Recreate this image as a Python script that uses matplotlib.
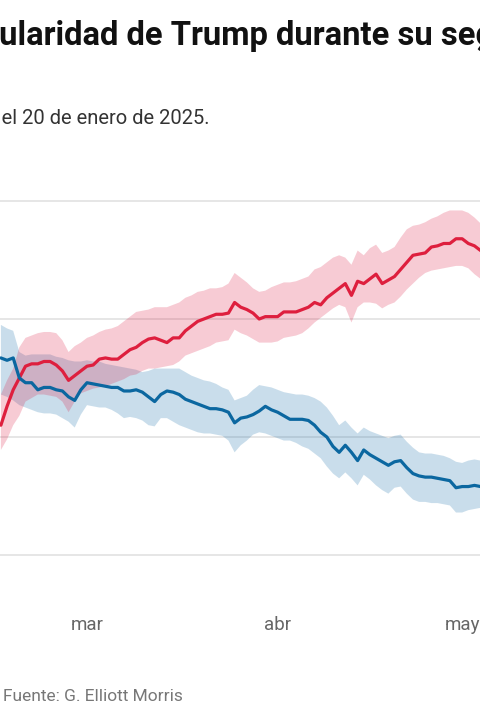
import matplotlib
matplotlib.use("Agg")
import matplotlib.pyplot as plt
import matplotlib.dates as mdates
import numpy as np
import datetime as dt

plt.rcParams['font.family'] = ['Roboto', 'DejaVu Sans']

# ---------------- data (daily, 15 feb 2025 -> 4 may 2025) ----------------
start_date = "2025-02-15"
n_days = 80

desaprobacion = [45.5, 46.3, 47.0, 47.5, 48.0, 48.1, 48.1, 48.2, 48.2, 48.05,
                 47.8, 47.4, 47.6, 47.8, 48.0, 48.05, 48.3, 48.35, 48.3, 48.3,
                 48.5, 48.7, 48.8, 49.0, 49.15, 49.2, 49.1, 49.0, 49.2, 49.2,
                 49.5, 49.7, 49.9, 50.0, 50.1, 50.2, 50.2, 50.25, 50.7, 50.5,
                 50.4, 50.25, 50.0, 50.1, 50.1, 50.1, 50.3, 50.3, 50.3, 50.4,
                 50.5, 50.7, 50.6, 50.9, 51.1, 51.3, 51.5, 51.0, 51.6, 51.5,
                 51.7, 51.9, 51.5, 51.65, 51.8, 52.1, 52.4, 52.7, 52.75, 52.8,
                 53.05, 53.1, 53.2, 53.2, 53.4, 53.4, 53.2, 53.1, 52.9, 52.9]
desaprobacion_alto = [46.8, 47.4, 47.9, 48.8, 49.2, 49.3, 49.4, 49.45, 49.45, 49.4,
                      49.1, 48.6, 48.85, 49.0, 49.2, 49.3, 49.45, 49.55, 49.6, 49.7,
                      49.9, 50.1, 50.3, 50.35, 50.4, 50.5, 50.5, 50.5, 50.6, 50.7,
                      50.9, 51.0, 51.15, 51.2, 51.3, 51.3, 51.35, 51.5, 51.95, 51.75,
                      51.55, 51.3, 51.15, 51.2, 51.35, 51.45, 51.55, 51.55, 51.6, 51.7,
                      51.8, 52.1, 52.2, 52.4, 52.6, 52.7, 52.6, 52.3, 52.9, 52.7,
                      53.0, 53.15, 52.8, 52.9, 53.05, 53.45, 53.8, 53.95, 54.0, 54.1,
                      54.25, 54.35, 54.5, 54.6, 54.6, 54.6, 54.5, 54.3, 54.05, 53.9]
desaprobacion_bajo = [44.45, 44.9, 45.5, 45.9, 46.5, 46.65, 46.8, 46.8, 46.75, 46.7,
                      46.5, 46.05, 46.5, 46.85, 46.95, 47.05, 47.1, 47.15, 47.25, 47.35,
                      47.45, 47.6, 47.65, 47.8, 47.9, 47.9, 47.95, 48.0, 48.05, 48.2,
                      48.45, 48.55, 48.65, 48.75, 48.85, 49.0, 49.05, 49.1, 49.55, 49.4,
                      49.3, 49.15, 49.0, 49.0, 49.0, 49.05, 49.2, 49.25, 49.3, 49.4,
                      49.6, 49.85, 50.05, 50.25, 50.45, 50.6, 50.5, 49.85, 50.5, 50.7,
                      50.7, 50.65, 50.45, 50.6, 50.7, 50.95, 51.25, 51.5, 51.75, 51.95,
                      52.05, 52.1, 52.15, 52.2, 52.25, 52.25, 52.15, 51.9, 51.7, 51.55]

aprobacion = [48.35, 48.25, 48.35, 47.5, 47.3, 47.3, 47.0, 47.1, 47.1, 47.0,
              46.95, 46.7, 46.55, 47.0, 47.3, 47.25, 47.2, 47.15, 47.1, 47.1,
              46.95, 46.95, 47.0, 46.9, 46.7, 46.5, 46.8, 46.95, 46.9, 46.8,
              46.6, 46.5, 46.4, 46.3, 46.2, 46.2, 46.15, 46.05, 45.6, 45.8,
              45.85, 45.95, 46.1, 46.3, 46.15, 46.05, 45.9, 45.75, 45.75, 45.75,
              45.7, 45.5, 45.2, 45.0, 44.6, 44.35, 44.65, 44.35, 44.0, 44.45,
              44.25, 44.1, 43.95, 43.8, 43.95, 44.0, 43.7, 43.45, 43.35, 43.3,
              43.3, 43.25, 43.2, 43.15, 42.85, 42.9, 42.9, 42.95, 42.9, 42.9]
aprobacion_alto = [49.75, 49.6, 49.5, 48.6, 48.45, 48.5, 48.5, 48.5, 48.5, 48.4,
                   48.35, 48.25, 48.2, 48.2, 48.25, 48.2, 48.2, 48.1, 48.05, 48.0,
                   47.95, 47.9, 47.85, 47.75, 47.8, 47.9, 47.9, 47.9, 47.9, 47.9,
                   47.75, 47.6, 47.5, 47.4, 47.35, 47.25, 47.1, 47.0, 46.55, 46.65,
                   46.75, 47.0, 47.2, 47.15, 47.1, 47.0, 46.9, 46.85, 46.8, 46.8,
                   46.75, 46.65, 46.5, 46.25, 45.9, 45.5, 45.7, 45.4, 45.15, 45.4,
                   45.25, 45.15, 45.05, 44.95, 45.05, 45.1, 44.8, 44.55, 44.35, 44.3,
                   44.3, 44.25, 44.2, 44.1, 43.95, 43.9, 44.0, 44.05, 44.0, 43.9]
aprobacion_bajo = [46.8, 46.7, 46.55, 46.35, 46.25, 46.15, 46.05, 46.0, 46.0, 45.95,
                   45.8, 45.65, 45.4, 45.95, 46.35, 46.3, 46.25, 46.25, 46.15, 46.0,
                   45.8, 45.85, 45.8, 45.7, 45.5, 45.45, 45.8, 45.8, 45.65, 45.5,
                   45.4, 45.3, 45.2, 45.15, 45.15, 45.1, 45.05, 44.85, 44.35, 44.65,
                   44.85, 45.1, 45.2, 45.15, 45.05, 44.95, 44.85, 44.85, 44.75, 44.6,
                   44.5, 44.3, 44.1, 43.75, 43.45, 43.25, 43.5, 43.25, 42.95, 43.4,
                   43.2, 42.95, 42.75, 42.6, 42.85, 42.9, 42.6, 42.35, 42.25, 42.25,
                   42.2, 42.2, 42.15, 42.1, 41.8, 41.8, 41.9, 41.95, 42.0, 42.0]

tick_dates = ["2025-03-01", "2025-04-01", "2025-05-01"]
tick_labels = ["mar", "abr", "may"]
y_grid = [40, 45, 50, 55]

titulo = "Popularidad de Trump durante su segundo mandato"
titulo_oculto = "Pop"
subtitulo = "Aprobación y desaprobación de Donald Trump desde el 20 de enero de 2025."
fuente = "Fuente: G. Elliott Morris"

# ---------------- figure ----------------
W, H = 480, 720
fig = plt.figure(figsize=(W / 100, H / 100), dpi=100)
fig.patch.set_facecolor("white")

ax_top_px, ax_bot_px = 201, 555
ax = fig.add_axes([0, 1 - ax_bot_px / H, 1, (ax_bot_px - ax_top_px) / H])
ax.set_facecolor("none")

dates = np.array([np.datetime64(start_date) + np.timedelta64(i, 'D') for i in range(n_days)])
dnum = mdates.date2num(dates.astype("datetime64[D]").astype(dt.date))

RED = "#de1f3e"
RED_BAND = "#dc143c"
BLUE = "#0b67a0"
BLUE_BAND = "#2a7ab0"

ax.fill_between(dnum, aprobacion_bajo, aprobacion_alto, color=BLUE_BAND, alpha=0.25, lw=0, zorder=2)
ax.fill_between(dnum, desaprobacion_bajo, desaprobacion_alto, color=RED_BAND, alpha=0.22, lw=0, zorder=2)
ax.plot(dnum, desaprobacion, color=RED, lw=2.3, zorder=4, solid_capstyle="round", solid_joinstyle="round")
ax.plot(dnum, aprobacion, color=BLUE, lw=2.3, zorder=4, solid_capstyle="round", solid_joinstyle="round")

# x scale: 1 mar at 87 px, ~6.15 px per day
mar1 = mdates.date2num(dt.date(2025, 3, 1))
px_per_day = 6.15
ax.set_xlim(mar1 - 87 / px_per_day, mar1 + (W - 87) / px_per_day)
ax.set_ylim(40, 55)

for v in y_grid:
    ax.axhline(v, color="#e4e4e4", lw=1.3, zorder=1, clip_on=False)

ax.set_xticks([mdates.date2num(dt.date.fromisoformat(d)) for d in tick_dates])
ax.set_xticklabels(tick_labels, fontsize=13.5, color="#666666")
ax.tick_params(axis="x", length=0, pad=44)
ax.set_yticks([])
for s in ax.spines.values():
    s.set_visible(False)

# ---------------- texts ----------------
TITLE_FS = 23.6
renderer = fig.canvas.get_renderer()
t_full = fig.text(0, 0, titulo, fontsize=TITLE_FS, fontweight="bold")
t_rest = fig.text(0, 0, titulo[len(titulo_oculto):], fontsize=TITLE_FS, fontweight="bold")
w_hidden = t_full.get_window_extent(renderer).width - t_rest.get_window_extent(renderer).width
t_full.remove()
t_rest.remove()
fig.text((-w_hidden - 0.5) / W, 1 - 45 / H, titulo, fontsize=TITLE_FS, fontweight="bold",
         color="#111111", va="baseline", ha="left")
fig.text(209 / W, 1 - 124 / H, subtitulo, fontsize=14.5, color="#333333",
         va="baseline", ha="right")
fig.text(3 / W, 1 - 701 / H, fuente, fontsize=12.5, color="#777777",
         va="baseline", ha="left")

fig.savefig("out.png", dpi=100, facecolor="white")
